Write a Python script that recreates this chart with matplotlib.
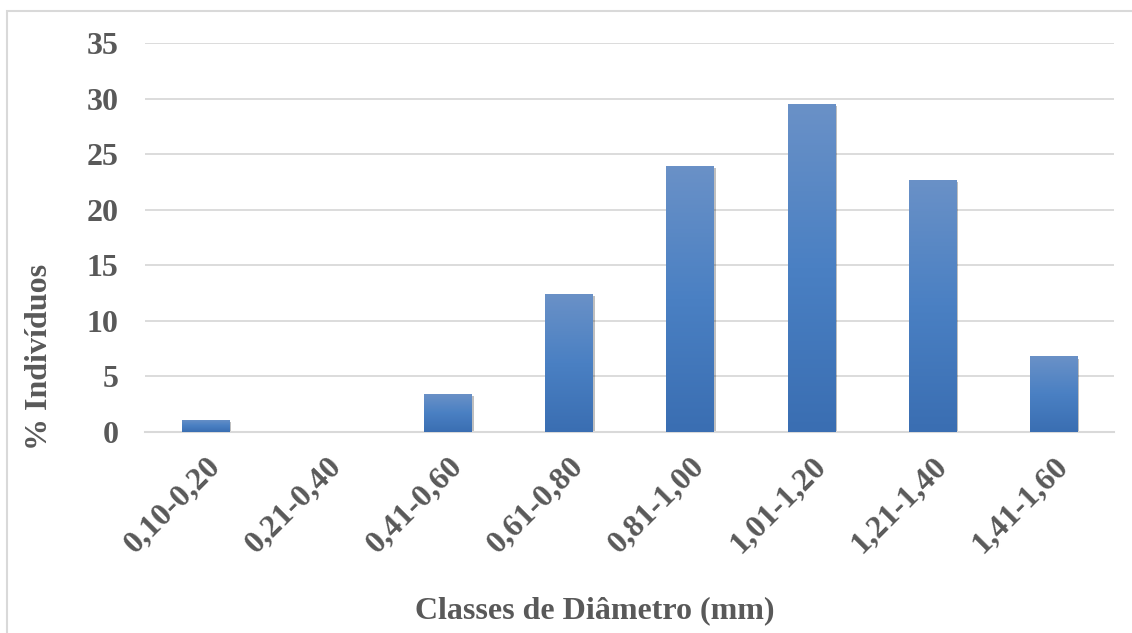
import numpy as np
import matplotlib.pyplot as plt
from matplotlib.patches import Rectangle
from matplotlib.colors import LinearSegmentedColormap
import matplotlib.patheffects as pe

classes = ["0,10-0,20", "0,21-0,40", "0,41-0,60", "0,61-0,80",
           "0,81-1,00", "1,01-1,20", "1,21-1,40", "1,41-1,60"]
pct = [1.1, 0.0, 3.4, 12.4, 23.9, 29.5, 22.7, 6.8]
yticks = [0, 5, 10, 15, 20, 25, 30, 35]

txt = "#595959"
grid = "#d9d9d9"
plt.rcParams["font.family"] = ["Liberation Serif", "DejaVu Serif"]
plt.rcParams["font.weight"] = "bold"

fig = plt.figure(figsize=(11.32, 6.33), dpi=100)
ax = fig.add_axes([145 / 1132, 1 - 432 / 633, (1114 - 145) / 1132, (432 - 43) / 633])

x = np.arange(len(classes))
w = 0.39
bars = ax.bar(x, pct, width=w, color="#4a7fc1", zorder=2,
              path_effects=[pe.SimplePatchShadow(offset=(1.5, -1.5), shadow_rgbFace="#000000", alpha=0.25),
                            pe.Normal()])

# vertical gradient inside each bar
cmap = LinearSegmentedColormap.from_list("bar", ["#3a6eb2", "#4a80c3", "#6a91c7"])
grad = np.linspace(0, 1, 256).reshape(-1, 1)
for b in bars:
    h = b.get_height()
    if h <= 0:
        continue
    x0 = b.get_x()
    im = ax.imshow(grad, cmap=cmap, origin="lower", aspect="auto",
                   extent=[x0, x0 + b.get_width(), 0, h], zorder=3)
    im.set_clip_path(b)

ax.set_xlim(-0.5, len(classes) - 0.5)
ax.set_ylim(0, 35)
ax.set_yticks(yticks)
ax.set_xticks(x)
ax.set_xticklabels(classes, rotation=45, ha="right", va="top", rotation_mode="anchor")
ax.tick_params(axis="both", length=0, labelsize=23, colors=txt)
ax.tick_params(axis="y", pad=19)
ax.tick_params(axis="x", pad=14)
ax.yaxis.grid(True, color=grid, linewidth=1.3, zorder=0)
ax.set_axisbelow(True)
for s in ["top", "right", "left"]:
    ax.spines[s].set_visible(False)
ax.spines["bottom"].set_color(grid)
ax.spines["bottom"].set_linewidth(1.5)

fig.text(40 / 1132, 1 - 357 / 633, "% Indivíduos", rotation=90, ha="center", va="center",
         fontsize=23, color=txt, fontweight="bold")
fig.text(595 / 1132, 1 - 611 / 633, "Classes de Diâmetro (mm)", ha="center", va="center",
         fontsize=23, color=txt, fontweight="bold")

fig.patches.append(Rectangle((7 / 1132, -0.01), 1.0, 1 - 11 / 633 + 0.01, transform=fig.transFigure,
                             fill=False, edgecolor=grid, linewidth=1.5))

plt.savefig("out.png", dpi=100)
